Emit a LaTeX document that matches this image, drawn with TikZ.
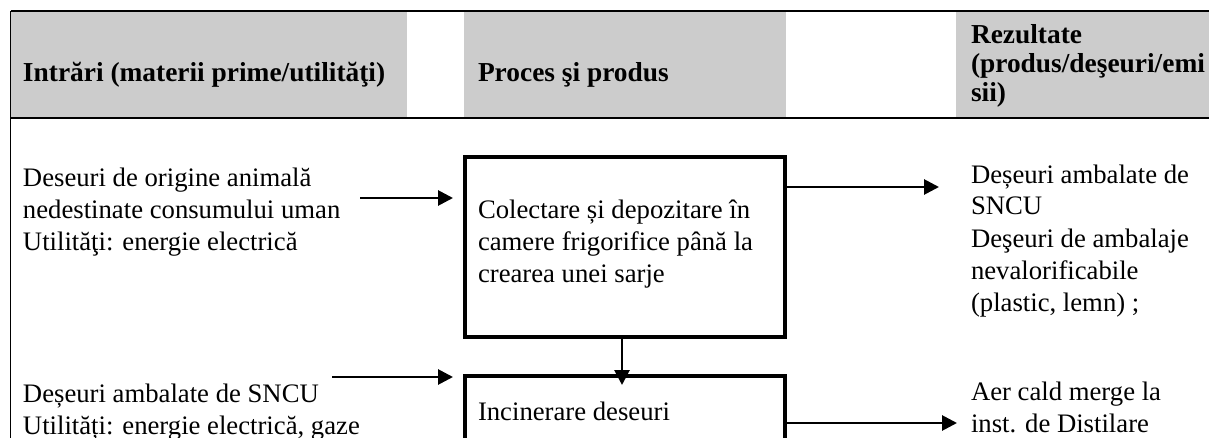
\documentclass[tikz,border=0pt]{standalone}
\usepackage{fontspec}
\setmainfont{Liberation Serif}
\usetikzlibrary{arrows.meta}
\definecolor{headgray}{RGB}{204,204,204}
\begin{document}
\begin{tikzpicture}[x=0.5pt,y=-0.5pt,
  % multi-line texts are placed by the baseline of their last line
  bodytxt/.style={inner sep=0pt, outer sep=0pt, align=left, anchor=base west,
    font=\fontsize{13.35pt}{16pt}\selectfont},
  headtxt/.style={inner sep=0pt, outer sep=0pt, align=left, anchor=base west,
    font=\fontsize{13.7pt}{14.5pt}\selectfont\bfseries},
  procbox/.style={draw, line width=2.25pt, inner sep=0pt, outer sep=0pt,
    minimum width=160pt, anchor=north},
  arr/.style={line width=1.4pt, -{Triangle[length=7.5pt,width=7.5pt]}},
  tablerule/.style={line width=0.8pt}]
\useasboundingbox (0,0) rectangle (1209,438);
\clip (0,0) rectangle (1209,438);

% header cells
\fill[headgray] (11,11) rectangle (407,118);
\fill[headgray] (464,11) rectangle (786,118);
\fill[headgray] (956,11) rectangle (1209,118);

% table rules
\draw[tablerule] (10.5,11) -- (1209,11);
\draw[tablerule] (10.5,118) -- (1209,118);
\draw[tablerule] (10.5,11) -- (10.5,438);

% header texts
\node[headtxt] (hin) at (23,82) {Intrări (materii prime/utilităţi)};
\node[headtxt] (hproc) at (478,82) {Proces şi produs};
\node[headtxt] (hout) at (971,102) {Rezultate\\(produs/deşeuri/emi\\sii)};

% process boxes
\node[procbox, minimum height=90pt] (b1) at (625,157) {};
\node[procbox, minimum height=60pt] (b2) at (625,376) {};

% texts
\node[bodytxt] (in1) at (23,250) {Deseuri de origine animală\\nedestinate consumului uman\\Utilităţi: energie electrică};
\node[bodytxt] (t1) at (478,282) {Colectare și depozitare în\\camere frigorifice până la\\crearea unei sarje};
\node[bodytxt] (out1) at (971,311) {Deșeuri ambalate de\\SNCU\\Deşeuri de ambalaje\\nevalorificabile\\(plastic, lemn) ;};
\node[bodytxt] (in2) at (23,434) {Deșeuri ambalate de SNCU\\Utilități: energie electrică, gaze};
\node[bodytxt] (t2) at (478,420) {Incinerare deseuri};
\node[bodytxt] (out2) at (971,432) {Aer cald merge la\\inst. de Distilare};

% arrow ends in free space
\coordinate (s1) at (360,198);
\coordinate (e2) at (939,187);
\coordinate (s3) at (332,377);
\coordinate (e4) at (957,423);

% connectors
\draw[arr, shorten >=6pt] (s1) -- (s1 -| b1.west);
\draw[arr] (b1.east |- e2) -- (e2);
\draw[arr, shorten >=6pt] (s3) -- (s3 -| b2.west);
\draw[arr] (b2.east |- e4) -- (e4);
\draw[arr, shorten >=-4.5pt] ([xshift=-1.5pt]b1.south) -- ([xshift=-1.5pt]b2.north);
\end{tikzpicture}
\end{document}
